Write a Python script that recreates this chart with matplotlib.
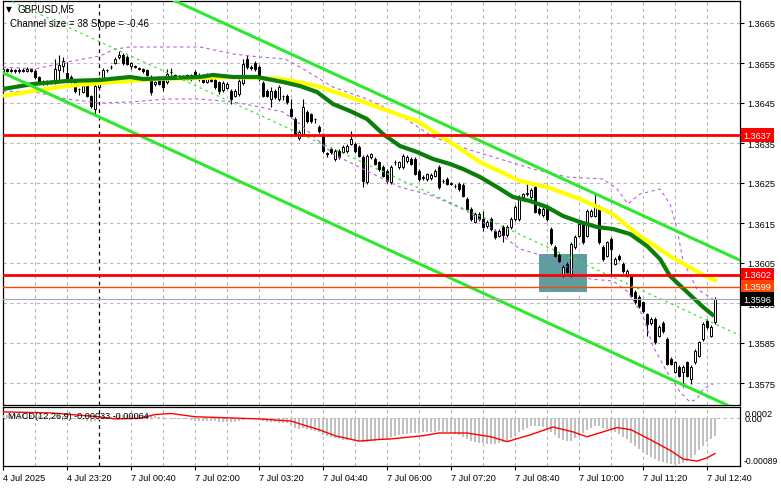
import matplotlib
matplotlib.use("Agg")
import matplotlib.pyplot as plt
from matplotlib.patches import Rectangle
import numpy as np

# ---- data (prices in pips above 1.3500, MACD in points of 1e-5) ----
opens = [153.0, 153.4, 153.0, 153.3, 152.9, 153.3, 153.0, 153.4, 153.1, 151.5,
         150.3, 150.0, 150.5, 150.1, 153.3, 154.3, 152.5, 151.5, 150.3, 148.6,
         147.8, 150.0, 146.8, 143.5, 149.0, 150.8, 153.2, 153.9, 155.0, 156.4,
         157.0, 156.6, 154.3, 154.2, 153.7, 153.5, 153.2, 151.5, 149.7, 151.3,
         151.0, 150.2, 152.8, 151.8, 151.5, 151.6, 152.0, 152.0, 152.8, 152.0,
         152.0, 150.3, 151.8, 150.8, 150.2, 148.2, 148.8, 148.0, 146.8, 147.2,
         150.0, 156.0, 153.9, 155.0, 154.0, 150.0, 148.0, 146.0, 148.0, 146.0,
         146.8, 146.8, 143.5, 141.0, 136.2, 137.2, 142.8, 142.2, 141.0, 139.0,
         137.0, 132.4, 133.5, 131.0, 133.0, 132.8, 133.0, 134.8, 134.8, 134.0,
         131.5, 125.2, 131.5, 131.0, 130.2, 129.0, 128.0, 125.2, 130.2, 129.0,
         129.0, 130.5, 131.0, 131.0, 128.0, 126.3, 126.0, 126.2, 126.8, 129.0,
         125.5, 126.0, 124.8, 124.2, 124.8, 124.5, 121.0, 118.5, 115.3, 117.3,
         116.0, 114.2, 116.0, 113.0, 111.8, 114.0, 112.0, 114.0, 116.0, 116.0,
         121.5, 122.3, 121.5, 124.0, 118.5, 117.0, 119.0, 113.5, 109.0, 107.0,
         101.8, 104.8, 101.8, 109.0, 111.8, 114.8, 111.8, 116.8, 116.8, 119.0,
         109.0, 106.8, 111.0, 104.8, 106.8, 104.8, 101.8, 101.8, 97.8, 96.5,
         95.2, 92.2, 90.0, 91.0, 86.8, 90.0, 86.0, 81.0, 77.8, 79.0,
         77.8, 80.2, 76.0, 80.2, 81.8, 86.0, 90.5, 86.8, 90.2]
closes = [153.4, 153.0, 153.3, 152.9, 153.3, 153.0, 153.4, 153.1, 151.5, 150.3,
          150.0, 150.5, 150.1, 153.5, 154.5, 155.5, 151.0, 150.5, 148.0, 148.5,
          149.3, 146.8, 144.3, 149.2, 151.0, 153.2, 153.3, 154.1, 156.0, 157.0,
          155.0, 154.8, 155.0, 154.0, 153.5, 153.0, 152.0, 147.8, 150.2, 149.8,
          149.0, 152.2, 152.7, 151.9, 151.6, 151.4, 151.0, 151.0, 151.5, 151.0,
          150.3, 152.0, 150.5, 149.0, 148.0, 150.0, 149.8, 146.0, 148.0, 150.5,
          154.8, 154.0, 153.8, 153.5, 151.0, 146.8, 146.8, 148.0, 146.5, 149.0,
          146.7, 145.2, 141.8, 137.2, 137.8, 144.0, 140.5, 140.5, 140.9, 138.0,
          133.0, 132.2, 132.7, 133.0, 131.5, 134.0, 134.3, 136.0, 133.0, 131.8,
          125.5, 131.8, 132.2, 129.8, 128.5, 126.8, 125.5, 129.0, 130.3, 130.2,
          131.8, 131.5, 129.8, 127.3, 126.0, 126.4, 127.2, 127.0, 128.0, 124.0,
          125.6, 124.8, 124.9, 124.3, 123.5, 121.8, 118.5, 116.0, 117.3, 116.0,
          114.0, 115.3, 113.5, 111.5, 113.0, 112.0, 114.0, 116.0, 119.0, 121.5,
          122.2, 122.4, 123.3, 117.8, 117.5, 118.5, 116.0, 110.0, 106.8, 105.5,
          104.0, 102.8, 109.8, 111.5, 114.8, 110.2, 118.0, 118.0, 119.8, 110.2,
          106.0, 110.2, 108.5, 106.0, 106.0, 103.0, 103.0, 96.8, 95.2, 94.2,
          93.0, 89.8, 91.0, 85.2, 89.0, 88.0, 79.8, 79.8, 80.2, 76.8,
          79.0, 76.8, 79.0, 83.0, 85.2, 89.8, 89.0, 89.0, 96.0]
highs = [153.8, 153.8, 153.7, 153.6, 153.7, 153.8, 153.9, 153.8, 153.4, 151.8,
         150.7, 150.8, 150.8, 156.0, 157.0, 156.5, 155.3, 152.0, 150.6, 148.8,
         149.8, 150.5, 147.0, 149.8, 151.4, 153.8, 153.6, 154.4, 156.4, 158.0,
         157.4, 157.0, 155.3, 154.6, 154.0, 153.8, 153.5, 152.0, 150.6, 151.7,
         151.4, 153.5, 153.8, 152.2, 152.1, 152.0, 152.3, 152.3, 153.2, 152.4,
         152.3, 152.4, 152.1, 151.2, 150.5, 150.4, 150.2, 148.4, 148.4, 150.9,
         156.0, 157.0, 154.4, 155.6, 154.5, 150.4, 148.4, 149.0, 148.4, 149.5,
         147.0, 147.2, 146.0, 141.4, 138.2, 146.0, 143.2, 142.6, 141.3, 139.4,
         137.4, 132.8, 133.9, 133.4, 133.4, 134.4, 134.7, 138.0, 135.2, 134.4,
         131.9, 132.2, 132.6, 131.4, 130.6, 129.4, 128.4, 129.4, 130.8, 130.6,
         132.2, 131.9, 131.4, 131.4, 128.4, 126.9, 127.6, 127.4, 128.4, 129.4,
         126.0, 126.4, 125.2, 124.8, 125.2, 124.9, 121.4, 118.9, 117.7, 117.7,
         118.0, 115.7, 116.4, 113.4, 113.4, 114.4, 114.4, 116.4, 119.4, 121.9,
         122.6, 124.8, 123.8, 124.4, 118.9, 118.9, 119.4, 113.9, 109.4, 107.4,
         104.4, 105.2, 110.2, 111.9, 115.2, 115.2, 118.4, 118.4, 122.2, 119.4,
         109.4, 110.6, 111.4, 106.4, 107.2, 105.2, 103.4, 102.2, 98.2, 96.9,
         95.6, 92.6, 91.4, 91.4, 89.4, 90.4, 86.4, 81.4, 80.6, 79.4,
         79.4, 80.6, 79.4, 83.4, 85.6, 90.2, 90.9, 89.4, 96.4]
lows = [152.6, 152.7, 152.7, 152.5, 152.6, 152.7, 152.7, 152.8, 151.0, 150.0,
        149.5, 149.6, 149.7, 149.8, 150.5, 152.8, 150.8, 150.0, 147.6, 147.0,
        147.5, 146.4, 143.8, 141.8, 148.6, 150.5, 152.8, 153.6, 154.7, 156.0,
        154.6, 154.4, 153.5, 153.7, 153.2, 152.6, 151.7, 147.0, 149.3, 149.4,
        148.0, 149.8, 151.8, 151.4, 151.1, 151.0, 150.7, 150.6, 151.2, 150.6,
        150.0, 150.0, 150.2, 148.6, 147.2, 147.8, 148.5, 144.8, 146.4, 146.8,
        149.6, 153.6, 153.2, 153.0, 150.6, 146.4, 146.4, 144.0, 146.0, 145.6,
        145.8, 144.8, 141.4, 136.8, 135.8, 136.8, 140.0, 140.0, 140.0, 137.6,
        132.6, 131.6, 132.3, 130.6, 131.0, 132.4, 132.6, 134.4, 132.6, 131.4,
        124.0, 124.8, 131.0, 129.4, 128.0, 126.4, 125.0, 124.8, 129.6, 128.6,
        128.6, 130.1, 129.4, 126.9, 125.6, 125.8, 125.6, 125.8, 126.4, 123.6,
        125.0, 124.4, 124.4, 123.7, 123.1, 121.4, 118.1, 115.6, 114.9, 115.6,
        113.0, 113.8, 113.1, 111.1, 111.4, 110.2, 111.6, 113.6, 115.6, 115.6,
        121.1, 121.8, 121.1, 117.4, 117.1, 116.6, 115.6, 109.6, 106.4, 105.1,
        101.4, 102.4, 101.4, 108.6, 111.4, 109.8, 111.4, 116.4, 116.4, 109.8,
        105.6, 106.4, 101.8, 104.4, 105.6, 102.6, 101.4, 96.4, 94.8, 93.8,
        92.6, 86.8, 89.6, 84.8, 86.4, 87.6, 79.4, 79.4, 77.4, 76.4,
        74.0, 76.4, 74.8, 79.8, 81.4, 85.6, 88.6, 86.4, 89.8]

# moving averages as (bar, pips) vertices
ma_green = [(0, 148.5), (7.5, 149.75), (16, 150.5), (24.25, 150.75), (31.75, 151.5),
            (35, 151), (49.25, 151.5), (52.5, 152), (57.5, 151.5), (63.5, 151.5),
            (70, 150.25), (74.25, 149.25), (78.5, 147.75), (82.5, 144.75), (86.75, 143),
            (91, 141), (95, 137.25), (99.25, 134.25), (103.5, 132.75), (107.5, 131),
            (111.75, 129.75), (115, 128.5), (119.25, 126.5), (123.5, 124), (127.5, 121.5),
            (131.75, 120.5), (136, 119), (140, 116.75), (144.25, 115.25), (148.5, 114),
            (152.5, 113.5), (156.75, 112.25), (161, 109.25), (164.25, 106), (166.75, 101.75),
            (171, 97.75), (175, 94), (177.75, 91.75)]
ma_yellow = [(0, 146.75), (7.5, 148), (16, 149.25), (24.25, 150), (31.75, 150.5),
             (37.5, 151), (49.25, 151.25), (57.5, 151.5), (70, 151), (78.5, 149.25),
             (86.75, 146.5), (95, 143.5), (103.5, 140.5), (111.75, 135.25), (119.25, 130.25),
             (129.25, 125.5), (136, 124), (144.25, 121), (152.5, 117.25), (158.5, 112.25),
             (166.75, 106.75), (175, 102), (178.5, 100.5)]
band_upper = [(0, 154), (8, 153.5), (16, 155.25), (24.25, 156.75), (28, 158.5),
              (31.75, 159), (49.25, 159), (57.5, 157.25), (64.25, 156.5), (70.5, 156),
              (74.25, 154), (82.5, 149), (91, 146), (99.25, 142), (107.5, 136.5),
              (116, 133.5), (124.25, 131), (132.5, 128.5), (141, 126.5), (150, 126),
              (153.5, 123.5), (156.25, 119.75), (159.25, 122.25), (164.25, 123.5),
              (166.75, 119.75), (168.5, 113.5), (170, 105.5), (173.5, 98.5), (177.5, 96)]
band_lower = [(0, 148), (8, 147.75), (16, 146), (24.25, 145), (31.75, 145.25),
              (41, 146), (49.25, 146), (57.5, 145.25), (64.25, 144), (70, 142.75),
              (74.25, 139.75), (82.5, 132.25), (91, 128), (99.25, 124), (107.5, 121.75),
              (116, 118), (124.25, 112.25), (129.25, 108.5), (136, 106.5), (141, 104),
              (146.75, 101), (152.5, 100.5), (156.25, 97.75), (160, 91.75), (162.5, 84.25),
              (166, 77.75), (169.25, 72.75), (171.75, 70.25), (173.5, 71), (175, 73.5),
              (177.5, 74.75)]
channel_upper = [(0, 190.3), (184.25, 105.7)]
channel_mid = [(0, 171.4), (184.25, 86.9)]
channel_lower = [(0, 152.55), (184.25, 68.0)]

levels = {"1.3637": 1.3637, "1.3602": 1.3602, "1.3599": 1.3599, "1.3596": 1.3596}

macd_hist = [6, 6, 7, 7, 7, 7, 6, 5, 4, 3, 2, 1, 1, 2, 3, 3,
             2, 0, -2, -3, -4, -5, -7, -6, -4, -2, 0, 2, 4, 5, 5, 5,
             5, 5, 6, 6, 5, 4, 3, 2, 1, 0, -1, -2, -3, -3, -3, -4,
             -5, -5, -6, -5, -6, -6, -7, -7, -7, -8, -7, -6, -4, -2, -2, -2,
             -3, -5, -7, -8, -8, -9, -9, -10, -13, -18, -20, -19, -21, -22, -24, -26,
             -31, -34, -36, -38, -40, -41, -41, -40, -42, -43, -45, -44, -43, -42, -41, -39,
             -37, -35, -33, -31, -30, -29, -28, -28, -28, -27, -26, -26, -26, -25, -26, -27,
             -28, -30, -32, -35, -39, -43, -45, -46, -47, -48, -48, -48, -47, -45, -42, -38,
             -33, -27, -22, -18, -15, -15, -16, -17, -20, -26, -32, -37, -41, -43, -42, -38,
             -33, -28, -23, -19, -16, -16, -18, -20, -23, -26, -30, -35, -40, -46, -52, -58,
             -63, -68, -72, -76, -79, -82, -84, -85, -86, -85, -83, -80, -75, -68, -60, -52,
             -45, -39, -33]
macd_signal = [(0, 11), (12, 9), (17, 6), (24, 2), (28, -2), (34, -1), (38, 6), (42, 8),
               (48, 2), (56, 0), (64, -2), (72, -6), (79, -22), (83, -33), (89, -43),
               (94, -40), (97, -39), (105, -33), (109, -28), (116, -28), (122, -35),
               (126, -44), (132, -31), (137.5, -17), (142.5, -26), (146, -35), (150, -26),
               (153.5, -18), (157, -22), (162, -41), (167, -61), (170, -76), (173.5, -80),
               (176, -74), (178, -66)]

time_labels = ["4 Jul 2025", "4 Jul 23:20", "7 Jul 00:40", "7 Jul 02:00", "7 Jul 03:20",
               "7 Jul 04:40", "7 Jul 06:00", "7 Jul 07:20", "7 Jul 08:40", "7 Jul 10:00",
               "7 Jul 11:20", "7 Jul 12:40"]
price_ticks = [1.3575, 1.3585, 1.3595, 1.3605, 1.3615, 1.3625, 1.3635, 1.3645, 1.3655, 1.3665]


def pr(v):
    return 1.35 + np.asarray(v, dtype=float) / 10000.0


plt.rcParams['font.family'] = ['Liberation Sans', 'DejaVu Sans']
FS = 6.6
W, H = 781, 489
fig = plt.figure(figsize=(W / 100, H / 100), dpi=100)


def rect(l, t, r, b):
    return [l / W, 1 - b / H, (r - l) / W, (b - t) / H]


ax = fig.add_axes(rect(3, 2, 740, 406))
ax2 = fig.add_axes(rect(3, 408, 740, 467))
nbars = len(closes)
idx = np.arange(nbars)
xmax = 184.25
for a in (ax, ax2):
    a.set_xlim(0, xmax)
    for s in a.spines.values():
        s.set_color('black')
        s.set_linewidth(0.9)
ax.set_ylim(pr(69.5), pr(170.5))
ax2.set_ylim(-0.00089, 0.0002)

grid_kw = dict(color='#b8b8b8', lw=0.8, dashes=(3, 3), zorder=1)
for g in range(8, int(xmax), 8):
    if g == 24:
        continue
    ax.axvline(g, **grid_kw)
    ax2.axvline(g, **grid_kw)
for p in price_ticks:
    ax.axhline(p, **grid_kw)
ax2.axhline(0, **grid_kw)
ax.axvline(24, color='black', lw=0.9, dashes=(3, 3), zorder=2)
ax2.axvline(24, color='black', lw=0.9, dashes=(3, 3), zorder=2)

# signal box
ax.add_patch(Rectangle((134, pr(97.75)), 12, pr(107.25) - pr(97.75),
                       facecolor='#5f9ea0', edgecolor='none', zorder=3))

# candles
o = pr(opens); c = pr(closes); hi = pr(highs); lo = pr(lows)
up = c >= o
ax.vlines(idx, lo, hi, color='black', lw=0.8, zorder=4)
ax.bar(idx, np.abs(c - o), bottom=np.minimum(o, c), width=0.72,
       color=np.where(up, 'white', 'black'), edgecolor='black', linewidth=0.7, zorder=5)


def poly(a, pts, **kw):
    xs = [p[0] for p in pts]
    ys = pr([p[1] for p in pts])
    a.plot(xs, ys, **kw)


poly(ax, band_upper, color='#b860e0', lw=0.8, dashes=(3, 3), zorder=6)
poly(ax, band_lower, color='#b860e0', lw=0.8, dashes=(3, 3), zorder=6)
poly(ax, ma_yellow, color='#ffff00', lw=3.0, zorder=6, solid_capstyle='butt')
poly(ax, ma_green, color='#0a7d0a', lw=3.0, zorder=6, solid_capstyle='butt')
poly(ax, channel_upper, color='#2ee82e', lw=2.2, zorder=6)
poly(ax, channel_lower, color='#2ee82e', lw=2.2, zorder=6)
poly(ax, channel_mid, color='#2ee82e', lw=0.9, dashes=(2, 3), zorder=6)

ax.axhline(levels["1.3637"], color='#ff0000', lw=2.0, zorder=7)
ax.axhline(levels["1.3602"], color='#ff0000', lw=2.0, zorder=7)
ax.axhline(levels["1.3599"], color='#ff4500', lw=1.0, zorder=7)
ax.axhline(levels["1.3596"], color='#a8a8a8', lw=0.8, zorder=7)

# right price scale
ax.yaxis.tick_right()
ax.set_yticks(price_ticks)
ax.set_yticklabels([f"{p:.4f}" for p in price_ticks], fontsize=FS)
ax.tick_params(axis='y', length=3, width=0.8, pad=2)
ax.set_xticks([])

box_colors = {"1.3637": '#ff0000', "1.3602": '#ff0000', "1.3599": '#ff4500', "1.3596": '#000000'}
for name, val in levels.items():
    ax.text(1.0045, val, name, transform=ax.get_yaxis_transform(), ha='left', va='center',
            fontsize=FS, color='white', zorder=20, clip_on=False,
            bbox=dict(boxstyle='square,pad=0.3', fc=box_colors[name], ec='none'))

# MACD panel
ax2.bar(idx, np.array(macd_hist) * 1e-5, width=0.55, color='#c0c0c0', zorder=3)
ax2.plot([p[0] for p in macd_signal], [p[1] * 1e-5 for p in macd_signal],
         color='#ff0000', lw=1.0, zorder=4)
ax2.set_yticks([])
ax2.set_xticks(np.arange(0, nbars, 16))
ax2.set_xticklabels(time_labels, fontsize=FS, ha='left')
ax2.tick_params(axis='x', length=3, width=0.8, pad=2)
fig.text(745 / W, 1 - 415 / H, "0.0002", fontsize=FS, va='center')
fig.text(745 / W, 1 - 420 / H, "0.00", fontsize=FS, va='center')
fig.text(744 / W, 1 - 462 / H, "-0.00089", fontsize=6.2, va='center')
ax2.text(0.007, 0.86, "MACD(12,26,9) -0.00033 -0.00064", transform=ax2.transAxes,
         fontsize=FS, va='center', zorder=10)

# header texts
fig.text(6 / W, 1 - 10 / H, "\u25bc", fontsize=5.5, va='center', family=['DejaVu Sans'])
fig.text(17 / W, 1 - 10 / H, "GBPUSD,M5", fontsize=FS + 0.4, va='center')
fig.text(10 / W, 1 - 24 / H, "Channel size = 38 Slope = -0.46", fontsize=FS + 0.4, va='center')

fig.savefig("out.png", dpi=100)
